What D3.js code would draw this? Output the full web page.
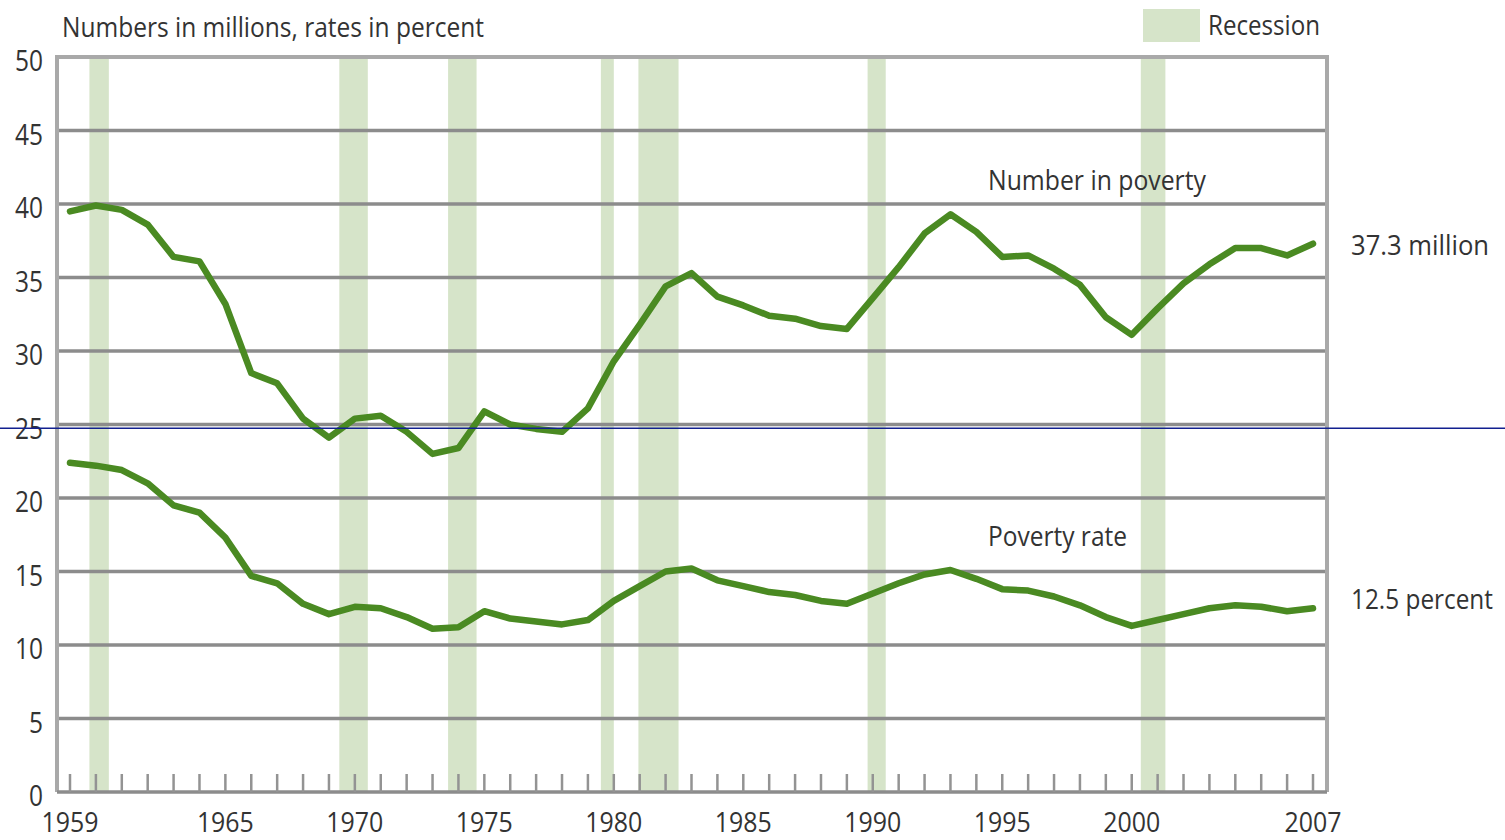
<!DOCTYPE html>
<html>
<head>
<meta charset="utf-8">
<script src="https://cdn.jsdelivr.net/npm/d3@7"></script>
<style>
  body { margin: 0; background: #fff; }
  text { font-family: "Open Sans", "DejaVu Sans", sans-serif; fill: #333; }
</style>
</head>
<body>
<div id="chart"></div>
<script>
const width = 1505;
const height = 840;

// data
const years = d3.range(1959, 2008);
const numberInPoverty = [39.5, 39.9, 39.6, 38.6, 36.4, 36.1, 33.2, 28.5, 27.8, 25.4,
    24.1, 25.4, 25.6, 24.5, 23.0, 23.4, 25.9, 25.0, 24.7, 24.5,
    26.1, 29.3, 31.8, 34.4, 35.3, 33.7, 33.1, 32.4, 32.2, 31.7,
    31.5, 33.6, 35.7, 38.0, 39.3, 38.1, 36.4, 36.5, 35.6, 34.5,
    32.3, 31.1, 32.9, 34.6, 35.9, 37.0, 37.0, 36.5, 37.3];
const povertyRate = [22.4, 22.2, 21.9, 21.0, 19.5, 19.0, 17.3, 14.7, 14.2, 12.8,
    12.1, 12.6, 12.5, 11.9, 11.1, 11.2, 12.3, 11.8, 11.6, 11.4,
    11.7, 13.0, 14.0, 15.0, 15.2, 14.4, 14.0, 13.6, 13.4, 13.0,
    12.8, 13.5, 14.2, 14.8, 15.1, 14.5, 13.8, 13.7, 13.3, 12.7,
    11.9, 11.3, 11.7, 12.1, 12.5, 12.7, 12.6, 12.3, 12.5];
// recession periods, decimal years
const recessions = [[1960.25, 1961.0], [1969.9, 1971.0], [1974.1, 1975.2],
    [1980.0, 1980.5], [1981.45, 1983.0], [1990.3, 1991.0], [2000.85, 2001.8]];
const yTicks = [0, 5, 10, 15, 20, 25, 30, 35, 40, 45, 50];
const xLabels = [1959, 1965, 1970, 1975, 1980, 1985, 1990, 1995, 2000, 2007];

const margin = { left: 57, right: 178, top: 57, bottom: 48 };
const green = '#4a8a22';
const grid = '#8c8c8c';
const frame = '#a9a9a9';

let svg = d3.select("#chart")
    .append("svg")
    .attr("width", width)
    .attr("height", height);

svg.append("rect").attr("width", width).attr("height", height).attr("fill", "#fff");

// years are plotted at mid-year
let x = d3.scaleLinear()
    .domain([1959.5, 2007.5])
    .range([70, 1313]);

let y = d3.scaleLinear()
    .domain([0, 50])
    .range([height - margin.bottom, margin.top]);

const left = margin.left, right = width - margin.right;

// condensed look: squeeze each text to the width it has in the picture
function label(tx, ty, str, w, size) {
    return svg.append("text")
        .attr("x", tx).attr("y", ty)
        .attr("font-size", size)
        .attr("textLength", w)
        .attr("lengthAdjust", "spacingAndGlyphs")
        .text(str);
}

// recession bands
svg.selectAll(".recession")
    .data(recessions)
    .join("rect")
    .attr("class", "recession")
    .attr("x", d => x(d[0]))
    .attr("width", d => x(d[1]) - x(d[0]))
    .attr("y", y(50))
    .attr("height", y(0) - y(50))
    .attr("fill", "#d6e4c9");

// gridlines
svg.selectAll(".grid")
    .data(yTicks.filter(d => d > 0 && d < 50))
    .join("line")
    .attr("class", "grid")
    .attr("x1", left).attr("x2", right)
    .attr("y1", d => y(d)).attr("y2", d => y(d))
    .attr("stroke", grid)
    .attr("stroke-width", 3.5);

// frame
svg.append("path")
    .attr("d", `M${left},${y(0)}V${y(50)}H${right}V${y(0)}`)
    .attr("fill", "none")
    .attr("stroke", frame)
    .attr("stroke-width", 4);
svg.append("line")
    .attr("x1", left).attr("x2", right)
    .attr("y1", y(0)).attr("y2", y(0))
    .attr("stroke", grid)
    .attr("stroke-width", 3.5);

// year ticks
svg.selectAll(".tick")
    .data(years)
    .join("line")
    .attr("class", "tick")
    .attr("x1", d => x(d + 0.5)).attr("x2", d => x(d + 0.5))
    .attr("y1", y(0)).attr("y2", y(0) - 18)
    .attr("stroke", "#939393")
    .attr("stroke-width", 2.5);

svg.selectAll(".xlabel")
    .data(xLabels)
    .join("text")
    .attr("class", "xlabel")
    .attr("x", d => x(d + 0.5))
    .attr("y", 832)
    .attr("text-anchor", "middle")
    .attr("font-size", 28)
    .attr("textLength", 57)
    .attr("lengthAdjust", "spacingAndGlyphs")
    .text(d => d);

svg.selectAll(".ylabel")
    .data(yTicks)
    .join("text")
    .attr("class", "ylabel")
    .attr("x", 43)
    .attr("y", d => y(d) + 4)
    .attr("dy", "0.35em")
    .attr("text-anchor", "end")
    .attr("font-size", 29)
    .attr("textLength", d => String(d).length * 14)
    .attr("lengthAdjust", "spacingAndGlyphs")
    .text(d => d);

// series
let line = d3.line()
    .x((d, i) => x(years[i] + 0.5))
    .y(d => y(d));

[numberInPoverty, povertyRate].forEach(series => {
    svg.append("path")
        .datum(series)
        .attr("fill", "none")
        .attr("stroke", green)
        .attr("stroke-width", 6.5)
        .attr("stroke-linejoin", "round")
        .attr("stroke-linecap", "round")
        .attr("d", line);
});

// stray guide line seen in the reference
svg.append("line")
    .attr("x1", 0).attr("x2", width)
    .attr("y1", y(24.75)).attr("y2", y(24.75))
    .attr("stroke", "#12208f")
    .attr("stroke-width", 1.5);

// texts
label(62, 37, "Numbers in millions, rates in percent", 422, 27);

svg.append("rect").attr("x", 1143).attr("y", 9).attr("width", 57).attr("height", 33)
    .attr("fill", "#d6e4c9");
label(1208, 35, "Recession", 112, 27);

label(988, 190, "Number in poverty", 218, 27);
label(988, 546, "Poverty rate", 139, 27);

label(1351, y(numberInPoverty[numberInPoverty.length - 1]) + 11, "37.3 million", 138, 27);
label(1351, y(povertyRate[povertyRate.length - 1]) + 1, "12.5 percent", 142, 27);
</script>
</body>
</html>
